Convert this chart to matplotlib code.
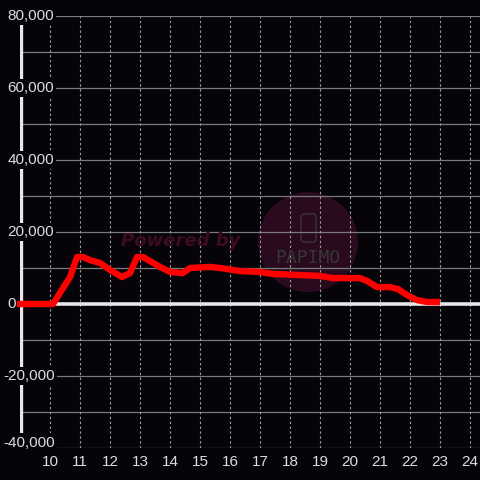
import matplotlib
matplotlib.use("Agg")
import matplotlib.pyplot as plt
from matplotlib.patches import Circle, FancyBboxPatch

# hours of the day vs value
hours = [8.9, 10.1, 10.33, 10.67, 10.9, 11.1, 11.33, 11.67, 12.0, 12.4,
         12.67, 12.9, 13.1, 13.33, 13.67, 14.0, 14.43, 14.67, 15.33, 15.67,
         16.33, 17.0, 17.43, 19.0, 19.43, 20.33, 20.57, 20.9, 21.33, 21.6,
         21.9, 22.23, 22.57, 23.0]
values = [0, 0, 3050, 7500, 13050, 13050, 12200, 11400, 9450, 7500,
          8600, 13050, 13050, 11950, 10300, 8900, 8600, 10000, 10300, 10000,
          9150, 8900, 8350, 7800, 7200, 7200, 6400, 4700, 4700, 4150,
          2500, 1100, 550, 550]

x_ticks = list(range(10, 25))
y_ticks = [-40000, -20000, 0, 20000, 40000, 60000, 80000]
y_minor = [-30000, -10000, 10000, 30000, 50000, 70000]

bg = '#060408'
txt = '#dcdcdc'
W = 480.0

plt.rcParams['font.family'] = ['Liberation Sans', 'DejaVu Sans']

fig = plt.figure(figsize=(4.8, 4.8), dpi=100, facecolor=bg)
ax = fig.add_axes([20 / W, 32 / W, 460 / W, 432 / W])
ax.set_facecolor(bg)
ax.set_xlim(9, 9 + 460 / 30)
ax.set_ylim(-40000, 80000)
for s in ax.spines.values():
    s.set_visible(False)

# grid
for v in y_minor:
    ax.axhline(v, color='#7a7a7a', lw=0.9, zorder=1)
for v in y_ticks:
    if v != 0:
        ax.axhline(v, xmin=33 / 460, color='#7a7a7a', lw=0.9, zorder=1)
for v in x_ticks:
    ax.axvline(v, color='#9a9a9a', lw=0.8, ls=(0, (2.2, 2.2)), zorder=1)

# axes lines
ax.axvline(9.02, color='#e8e8e8', lw=2.4, zorder=2)
ax.axhline(0, color='#e8e8e8', lw=2.6, zorder=2)

# watermark
ax.add_patch(Circle((308 / W, 1 - 242 / W), 50 / W, transform=fig.transFigure,
                    facecolor='#2a0a1e', edgecolor='none', zorder=0.5, clip_on=False))
ax.add_patch(FancyBboxPatch((301 / W, 1 - 242 / W), 15 / W, 28 / W,
                            boxstyle='round,pad=0,rounding_size=0.006',
                            transform=fig.transFigure, facecolor='none',
                            edgecolor='#363636', lw=1.0, zorder=0.6, clip_on=False))
fig.text(308 / W, 1 - 258 / W, 'PAPIMO', color='#363636', fontsize=13,
         family='DejaVu Sans Mono', ha='center', va='center', zorder=0.6)
fig.text(181 / W, 1 - 241 / W, 'Powered by', color='#3d0c1e', fontsize=13,
         fontweight='bold', style='italic', family='DejaVu Sans',
         ha='center', va='center')

# series
ax.plot(hours, values, color='#ff0000', lw=4.6, solid_joinstyle='round',
        solid_capstyle='butt', zorder=5, clip_on=False)

# y labels inside the plot, left aligned, boxed over the axis line
for v in y_ticks:
    x0 = (3 if v < 0 else 7.5) - 20
    yv = v + 1500 if v == y_ticks[0] else v
    ax.text(x0 / 460, yv, f'{v:,}', transform=ax.get_yaxis_transform(),
            ha='left', va='center', color=txt, fontsize=11, zorder=4,
            bbox=dict(boxstyle='square,pad=0.15', facecolor=bg, edgecolor='none'),
            clip_on=False)

ax.set_yticks([])
ax.set_xticks(x_ticks)
ax.set_xticklabels([str(t) for t in x_ticks])
ax.tick_params(axis='x', length=0, pad=5, colors=txt, labelsize=11)

fig.savefig('out.png', dpi=100, facecolor=bg)
